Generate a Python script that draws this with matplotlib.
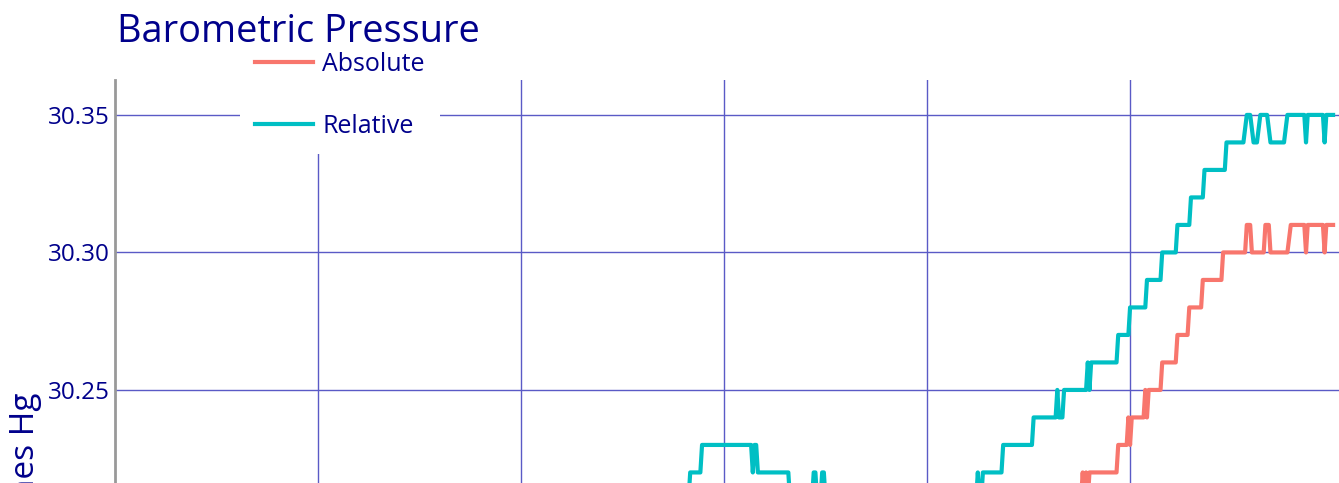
import matplotlib
matplotlib.use('Agg')
import matplotlib.pyplot as plt

plt.rcParams['font.family'] = ['Open Sans', 'DejaVu Sans']

# minutes since start of record, pressure in inches Hg
relative_min = [0, 50, 51, 127, 128, 198, 199, 263, 264, 310, 311, 339, 340, 346, 347,
                376, 377, 378, 379, 380, 398, 399, 412, 413, 414, 415, 417, 418, 419, 420,
                509, 510, 511, 512, 513, 524, 525, 542, 543, 556, 557, 558, 560, 561,
                574, 575, 576, 577, 592, 593, 599, 600, 609, 610, 618, 619, 627, 628,
                635, 636, 643, 644, 656, 657, 667, 669, 671, 673, 675, 677, 681, 683,
                691, 693, 703, 704, 705, 714, 715, 716, 720]
relative_inhg = [30.16, 30.16, 30.17, 30.17, 30.18, 30.18, 30.19, 30.19, 30.20, 30.20, 30.21, 30.21, 30.22, 30.22, 30.23,
                 30.23, 30.22, 30.23, 30.23, 30.22, 30.22, 30.21, 30.21, 30.22, 30.22, 30.21, 30.21, 30.22, 30.22, 30.21,
                 30.21, 30.22, 30.21, 30.21, 30.22, 30.22, 30.23, 30.23, 30.24, 30.24, 30.25, 30.24, 30.24, 30.25,
                 30.25, 30.26, 30.25, 30.26, 30.26, 30.27, 30.27, 30.28, 30.28, 30.29, 30.29, 30.30, 30.30, 30.31,
                 30.31, 30.32, 30.32, 30.33, 30.33, 30.34, 30.34, 30.35, 30.35, 30.34, 30.34, 30.35, 30.35, 30.34,
                 30.34, 30.35, 30.35, 30.34, 30.35, 30.35, 30.34, 30.35, 30.35]

absolute_min = [0, 50, 51, 127, 128, 198, 199, 263, 264, 310, 311, 339, 340, 346, 347,
                398, 399, 524, 525, 542, 543, 560, 561, 571, 572, 573, 574, 575, 576,
                592, 593, 598, 599, 600, 601, 608, 609, 610, 611, 618, 619, 627, 628,
                634, 635, 642, 643, 654, 655, 668, 669, 671, 672, 679, 680, 682, 683,
                693, 695, 703, 704, 705, 714, 715, 716, 720]
absolute_inhg = [30.12, 30.12, 30.13, 30.13, 30.14, 30.14, 30.15, 30.15, 30.16, 30.16, 30.17, 30.17, 30.18, 30.18, 30.19,
                 30.19, 30.18, 30.18, 30.19, 30.19, 30.20, 30.20, 30.21, 30.21, 30.22, 30.21, 30.22, 30.21, 30.22,
                 30.22, 30.23, 30.23, 30.24, 30.23, 30.24, 30.24, 30.25, 30.24, 30.25, 30.25, 30.26, 30.26, 30.27,
                 30.27, 30.28, 30.28, 30.29, 30.29, 30.30, 30.30, 30.31, 30.31, 30.30, 30.30, 30.31, 30.31, 30.30,
                 30.30, 30.31, 30.31, 30.30, 30.31, 30.31, 30.30, 30.31, 30.31]

y_ticks = [30.10, 30.15, 30.20, 30.25, 30.30, 30.35]
x_ticks = [120, 240, 360, 480, 600]

navy = '#00008B'
grid_col = '#5a5ac6'

fig = plt.figure(figsize=(13.39, 4.83), dpi=100)
# the plot area runs on below the bottom of the picture
ax = fig.add_axes([115/1339, -397/483, 1224/1339, 800/483])

ax.plot(absolute_min, absolute_inhg, color='#F8766D', lw=3, label='Absolute', zorder=3)
ax.plot(relative_min, relative_inhg, color='#00BFC4', lw=3, label='Relative', zorder=3)

ax.set_xlim(0, 723.5)
ax.set_ylim(30.0718, 30.3627)
ax.set_xticks(x_ticks)
ax.set_yticks(y_ticks)
ax.set_yticklabels(['%.2f' % v for v in y_ticks])
ax.tick_params(axis='y', length=0, pad=4, labelsize=17.5, labelcolor=navy)
ax.tick_params(axis='x', length=0, labelbottom=False)
ax.grid(True, color=grid_col, lw=1)
ax.set_axisbelow(True)

for s in ['top', 'right', 'bottom']:
    ax.spines[s].set_visible(False)
ax.spines['left'].set_color('#999999')
ax.spines['left'].set_linewidth(2)

ax.set_ylabel('Inches Hg', fontsize=24, color=navy)
ax.yaxis.set_label_coords(-0.06, 0.514)

fig.text(117/1339, 1 - 42/483, 'Barometric Pressure', fontsize=27.3, color=navy, va='baseline')

leg = ax.legend(loc='upper left', bbox_to_anchor=(240/1339, 1 - 37/483),
                bbox_transform=fig.transFigure, fontsize=18, frameon=True,
                facecolor='white', edgecolor='none', framealpha=1, fancybox=False,
                borderpad=0.6, handlelength=2.3, handletextpad=0.4, labelspacing=1.48,
                borderaxespad=0)
for t in leg.get_texts():
    t.set_color(navy)
leg.set_zorder(5)

plt.savefig('out.png', dpi=100)
